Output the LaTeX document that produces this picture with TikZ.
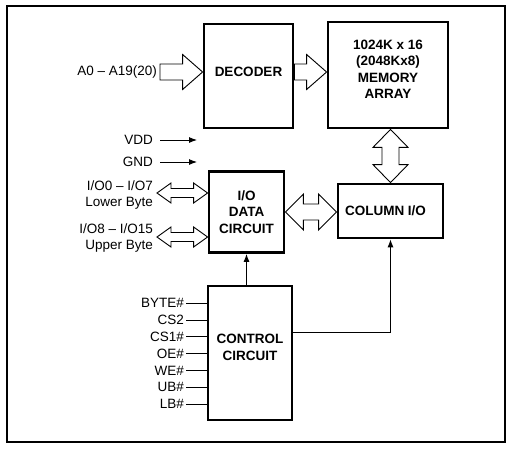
\documentclass[tikz,border=0pt]{standalone}
\usepackage{fontspec}
\setmainfont{Liberation Sans}
\usepackage{tikz}
\usetikzlibrary{calc,arrows.meta}
\newcommand{\diagfont}{\fontsize{13.5}{16.5}\selectfont}
\tikzset{
	block/.style={draw, line width=2.8pt, inner sep=0pt},
	blocktext/.style={font=\diagfont\bfseries, align=center, inner sep=0pt},
	pinlabel/.style={font=\diagfont, inner sep=0pt, anchor=east, align=right},
	wire/.style={line width=0.9pt},
	hollow/.style={draw, line width=0.9pt, fill=white, line join=miter},
}
% fat arrow: tail, tip, shaft half, head half, head length
\newcommand{\fatright}[5]{%
	\path[hollow] ($(#1)+(0,#3)$) -- ($(#2)+(-#5,#3)$) -- ++(0,#4-#3) -- (#2) -- ++(-#5,-#4) -- ++(0,#4-#3) -- ($(#1)+(0,-#3)$) -- cycle;}
\newcommand{\fatboth}[5]{%
	\path[hollow] (#1) -- ++(#5,#4) -- ++(0,#3-#4) -- ($(#2)+(-#5,#3)$) -- ++(0,#4-#3) -- (#2) -- ++(-#5,-#4) -- ++(0,#4-#3) -- ($(#1)+(#5,-#3)$) -- ++(0,#3-#4) -- cycle;}
\newcommand{\fatvert}[5]{%
	\path[hollow] (#1) -- ++(#4,-#5) -- ++(#3-#4,0) -- ($(#2)+(#3,#5)$) -- ++(#4-#3,0) -- (#2) -- ++(-#4,#5) -- ++(#4-#3,0) -- ($(#1)+(-#3,-#5)$) -- ++(#3-#4,0) -- cycle;}

\begin{document}
\begin{tikzpicture}[x=1pt, y=1pt]
	\useasboundingbox (0,0) rectangle (513,451);
	\draw[line width=1.2pt] (7,9) rectangle (505,445);

	% blocks
	\node[block, minimum width=89, minimum height=104] (dec) at (248.5,375) {};
	\node[block, minimum width=120, minimum height=106] (mem) at (388,376) {};
	\node[block, minimum width=105, minimum height=54] (col) at (390.5,240) {};
	\node[block, minimum width=75, minimum height=81] (dat) at (246.5,239) {};
	\node[block, minimum width=84, minimum height=134] (ctl) at (250,98) {};

	\node[blocktext] (dectext) at ([yshift=4]dec.center) {DECODER};
	\node[blocktext] (memtext) at ([yshift=5.5]mem.center) {1024K x 16\\(2048Kx8)\\MEMORY\\ARRAY};
	\node[blocktext] (coltext) at ([xshift=-5]col.center) {COLUMN I/O};
	\node[blocktext] (dattext) at (dat.center) {I/O\\DATA\\CIRCUIT};
	\node[blocktext] (ctltext) at ([yshift=5.5]ctl.center) {CONTROL\\CIRCUIT};

	% address and power
	\node[pinlabel] (addr) at (157,379) {A0 -- A19(20)};
	\coordinate (addrtail) at (160,379);
	\fatright{addrtail}{addrtail -| dec.west}{8}{17.5}{20}
	\fatright{addrtail -| dec.east}{addrtail -| mem.west}{8}{17.5}{20}

	\node[pinlabel] (vdd) at (153,311) {VDD};
	\node[pinlabel] (gnd) at (153,289) {GND};
	\coordinate (vddend) at (197,311);
	\coordinate (gndend) at (197,289);
	\draw[wire, -{Latex[length=8pt,width=6pt]}] ([xshift=7]vdd.east) -- (vddend);
	\draw[wire, -{Latex[length=8pt,width=6pt]}] ([xshift=7]gnd.east) -- (gndend);

	% data bytes
	\node[pinlabel] (lower) at (153,256) {I/O0 -- I/O7\\Lower Byte};
	\node[pinlabel] (upper) at (153,213) {I/O8 -- I/O15\\Upper Byte};
	\coordinate (lowtail) at (157,258);
	\coordinate (uptail) at (157,214);
	\fatboth{lowtail}{lowtail -| dat.west}{4.5}{10}{14}
	\fatboth{uptail}{uptail -| dat.west}{4.5}{10}{14}

	\fatboth{dat.east}{dat.east -| col.west}{8}{18}{18}
	\fatvert{col.north |- mem.south}{col.north}{8.5}{17.5}{18}

	% control inputs
	\foreach \pin [count=\i] in {BYTE\#, CS2, CS1\#, OE\#, WE\#, UB\#, LB\#}{
		\node[pinlabel] (pin\i) at (184,147.7-16.8*\i+16.8) {\pin};
		\draw[wire] ([xshift=2]pin\i.east) -- (pin\i.east -| ctl.west);
	}

	\draw[wire, -{Latex[length=8pt,width=6pt]}] (ctl.north -| dat.south) -- (dat.south);
	\draw[wire, -{Latex[length=8pt,width=6pt]}] ([yshift=21]ctl.east) -| (col.south);
\end{tikzpicture}
\end{document}
